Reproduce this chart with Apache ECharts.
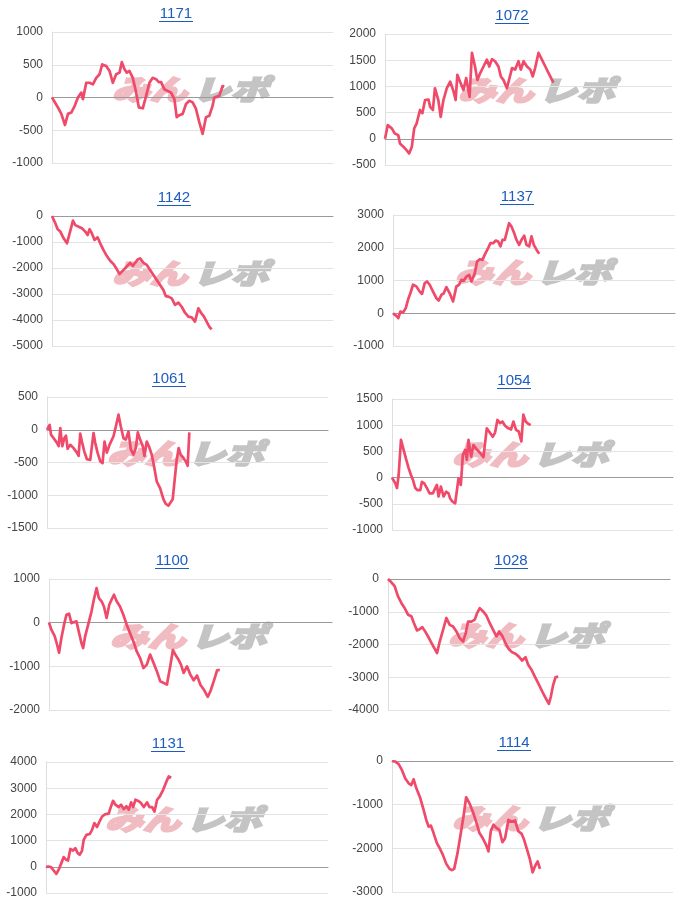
<!DOCTYPE html>
<html><head><meta charset="utf-8">
<script src="https://cdn.jsdelivr.net/npm/echarts@6/dist/echarts.min.js"></script>
<style>html,body{margin:0;padding:0;background:#fff}#c{width:681px;height:905px}</style>
</head><body><div id="c"></div>
<script>
// ---- data ----
const titles = ['1171','1072','1142','1137','1061','1054','1100','1028','1131','1114'];
const yMin  = [-1000, -500, -5000, -1000, -1500, -1000, -2000, -4000, -1000, -3000];
const yMax  = [ 1000, 2000,     0,  3000,   500,  1500,  1000,     0,  4000,     0];
const yStep = [  500,  500,  1000,  1000,   500,   500,  1000,  1000,  1000,  1000];
const xMax = 845; // games axis extent

const s1171 = [[0,0],[21,-180],[28,-250],[39,-420],[48,-250],[58,-230],[68,-130],[78,0],[88,75],[93,-25],[103,225],[113,225],[123,200],[133,300],[143,355],[151,505],[163,480],[173,405],[183,225],[193,355],[203,380],[210,540],[218,430],[225,380],[233,405],[243,300],[253,75],[261,-150],[273,-165],[283,25],[293,225],[303,300],[313,280],[321,235],[328,235],[338,125],[348,100],[358,75],[368,-25],[375,-300],[383,-270],[393,-250],[403,-100],[413,-50],[423,-75],[433,-175],[443,-380],[453,-555],[463,-300],[473,-280],[483,-125],[488,0],[493,25],[503,25],[513,175],[518,165]];
const s1072 = [[0,0],[8,260],[20,200],[29,100],[39,70],[44,-90],[54,-150],[64,-220],[71,-280],[79,-150],[86,200],[93,290],[103,550],[110,490],[118,740],[128,750],[133,610],[141,550],[147,965],[157,740],[164,420],[172,740],[182,965],[192,1090],[202,900],[208,740],[213,1220],[221,1090],[231,930],[239,1160],[249,800],[256,1640],[265,1380],[272,1120],[280,1250],[290,1380],[300,1510],[307,1380],[315,1520],[324,1480],[334,1380],[341,1190],[349,1120],[359,965],[374,1350],[383,1320],[393,1480],[400,1320],[408,1480],[418,1380],[428,1320],[435,1190],[442,1350],[452,1640],[462,1510],[472,1380],[482,1250],[492,1120],[496,1070]];
const s1142 = [[0,0],[10,-280],[17,-510],[25,-600],[35,-860],[45,-1050],[53,-670],[63,-180],[70,-350],[80,-410],[90,-470],[100,-600],[107,-730],[113,-510],[120,-670],[128,-920],[137,-820],[145,-1050],[155,-1310],[165,-1540],[175,-1720],[185,-1850],[195,-2050],[203,-2230],[213,-2100],[223,-1970],[235,-1800],[243,-1920],[250,-1800],[258,-1670],[265,-1630],[275,-1800],[285,-1880],[295,-2080],[305,-2270],[315,-2460],[325,-2650],[335,-2850],[342,-3080],[350,-3100],[360,-3170],[370,-3420],[380,-3330],[390,-3490],[400,-3720],[410,-3870],[420,-3900],[430,-4060],[440,-3550],[448,-3720],[457,-3870],[465,-4060],[473,-4260],[480,-4360]];
const s1137 = [[0,0],[10,-80],[16,-150],[22,50],[30,20],[38,150],[45,410],[52,610],[60,870],[70,820],[80,660],[87,590],[95,920],[102,970],[110,870],[120,660],[130,460],[137,390],[145,560],[152,610],[160,800],[170,610],[180,360],[183,330],[190,820],[198,870],[205,1020],[212,990],[220,1120],[228,1170],[235,970],[245,1220],[252,1580],[260,1650],[268,1630],[275,1790],[285,1990],[292,2140],[300,2140],[308,2220],[315,2190],[322,2040],[328,2240],[335,2240],[340,2260],[348,2750],[355,2650],[363,2450],[370,2240],[378,2090],[385,2240],[393,2370],[400,2090],[408,2040],[415,2350],[422,2090],[430,1940],[438,1820]];
const s1061 = [[0,0],[8,75],[12,-75],[20,-130],[30,-200],[35,-250],[40,25],[46,-250],[52,-130],[57,-90],[62,-290],[70,-230],[80,-280],[90,-350],[95,-400],[100,-60],[105,-180],[112,-330],[120,-450],[130,-460],[135,-460],[140,-50],[145,-200],[152,-350],[160,-480],[167,-510],[173,-180],[180,-350],[188,-230],[200,-100],[207,50],[215,230],[222,50],[230,-130],[237,-150],[245,-25],[252,-300],[260,-380],[267,-280],[273,-40],[280,-150],[288,-250],[293,-400],[300,-180],[307,-260],[315,-380],[322,-560],[330,-790],[340,-890],[350,-1060],[357,-1130],[365,-1160],[370,-1190],[378,-1060],[385,-710],[390,-460],[396,-280],[402,-380],[410,-430],[417,-480],[423,-550],[428,-40]];
const s1054 = [[0,0],[10,-110],[15,-200],[20,50],[27,720],[35,530],[43,340],[50,180],[57,50],[63,-45],[70,-200],[77,-240],[85,-240],[90,-80],[97,-110],[105,-200],[113,-300],[123,-300],[130,-200],[135,-140],[140,-360],[147,-170],[155,-360],[163,-270],[170,-300],[175,-400],[182,-460],[190,-490],[195,-500],[200,-15],[207,-140],[213,430],[220,530],[225,340],[230,720],[238,400],[245,620],[255,540],[265,470],[275,390],[285,940],[295,850],[303,780],[310,860],[317,1100],[325,1040],[332,1070],[340,990],[350,940],[358,920],[365,1070],[373,910],[381,880],[389,690],[395,1200],[402,1070],[409,1030],[417,1000]];
const s1100 = [[0,0],[7,-160],[17,-310],[24,-500],[30,-690],[37,-350],[45,-45],[52,180],[60,205],[67,-10],[74,10],[82,30],[90,-240],[97,-470],[102,-580],[108,-310],[117,-45],[127,260],[134,530],[142,790],[149,560],[157,490],[164,370],[172,110],[180,410],[187,530],[194,640],[202,490],[212,370],[222,180],[232,-45],[242,-240],[252,-430],[262,-660],[272,-810],[282,-1040],[292,-960],[302,-730],[312,-920],[322,-1110],[332,-1340],[342,-1380],[352,-1420],[362,-1000],[370,-620],[377,-730],[387,-850],[394,-960],[402,-1150],[412,-1000],[422,-1190],[432,-1320],[442,-1210],[452,-1420],[462,-1530],[474,-1700],[482,-1570],[492,-1340],[502,-1090],[510,-1080]];
const s1028 = [[0,0],[10,-100],[20,-220],[30,-530],[40,-730],[50,-890],[60,-1090],[70,-1140],[77,-1330],[87,-1570],[95,-1530],[103,-1470],[113,-1630],[123,-1810],[135,-2040],[147,-2260],[155,-1910],[165,-1550],[175,-1190],[185,-1400],[195,-1450],[205,-1600],[215,-1810],[225,-1910],[233,-1650],[240,-1300],[250,-1300],[260,-1240],[267,-1040],[275,-890],[285,-990],[295,-1120],[305,-1350],[315,-1550],[325,-1750],[333,-1600],[343,-1750],[352,-1960],[362,-2140],[372,-2240],[382,-2280],[392,-2370],[402,-2490],[412,-2390],[420,-2620],[430,-2770],[440,-2980],[450,-3180],[460,-3390],[470,-3590],[482,-3810],[488,-3590],[495,-3230],[502,-3000],[510,-2980]];
const s1131 = [[0,0],[8,10],[15,-10],[23,-140],[31,-270],[38,-110],[46,140],[53,370],[60,270],[66,240],[73,680],[81,620],[88,710],[95,520],[101,460],[108,620],[113,1030],[121,1220],[131,1250],[138,1410],[145,1670],[153,1520],[159,1690],[168,1920],[178,2010],[188,2030],[193,2240],[201,2520],[208,2370],[218,2280],[225,2370],[233,2200],[241,2310],[248,2180],[255,2460],[261,2280],[268,2560],[278,2500],[285,2430],[293,2280],[303,2460],[310,2280],[318,2280],[325,2110],[333,2560],[341,2690],[351,2940],[361,3260],[368,3450],[375,3390]];
const s1114 = [[0,0],[10,-15],[20,-70],[30,-210],[40,-400],[50,-510],[58,-550],[65,-420],[73,-620],[85,-850],[95,-1120],[103,-1350],[110,-1500],[117,-1480],[125,-1650],[135,-1880],[145,-2020],[153,-2150],[163,-2350],[173,-2470],[180,-2500],[187,-2470],[197,-2110],[207,-1650],[215,-1270],[223,-830],[233,-970],[243,-1160],[253,-1390],[263,-1650],[273,-1770],[283,-1920],[290,-2070],[297,-1610],[305,-1460],[315,-1540],[323,-1580],[332,-1860],[340,-1770],[350,-1350],[360,-1390],[370,-1360],[380,-1610],[390,-1670],[397,-1800],[405,-2000],[415,-2260],[423,-2550],[430,-2410],[438,-2300],[445,-2470]];
const seriesData = [s1171, s1072, s1142, s1137, s1061, s1054, s1100, s1028, s1131, s1114];

// ---- layout (px) ----
const layout = [
  {l:52,  t:32,  w:281, h:131, tx:176, ty:14,  wx:112, wy:89},
  {l:385, t:34,  w:287, h:131, tx:512, ty:16,  wx:458, wy:90},
  {l:52,  t:216, w:281, h:130, tx:174, ty:198, wx:112, wy:273},
  {l:393, t:215, w:282, h:131, tx:517, ty:197, wx:455, wy:272},
  {l:47,  t:397, w:281, h:131, tx:169, ty:379, wx:107, wy:453},
  {l:392, t:399, w:281, h:131, tx:514, ty:381, wx:452, wy:454},
  {l:49,  t:579, w:283, h:131, tx:172, ty:561, wx:110, wy:636},
  {l:388, t:579, w:282, h:131, tx:511, ty:561, wx:448, wy:635},
  {l:46,  t:762, w:282, h:131, tx:168, ty:744, wx:105, wy:819},
  {l:392, t:761, w:281, h:131, tx:514, ty:743, wx:452, wy:818}
];

const LINE = '#f04a6a';
const WM_FONT = 'italic 900 36px "Noto Sans CJK JP", sans-serif';
const grids = [], xAxes = [], yAxes = [], series = [], graphics = [];
layout.forEach((g, i) => {
  grids.push({left:g.l, top:g.t, width:g.w, height:g.h, containLabel:false});
  xAxes.push({type:'value', gridIndex:i, min:0, max:xMax,
    axisLine:{show:true, onZero:true, lineStyle:{color:'#9a9a9a', width:1}},
    axisTick:{show:false}, axisLabel:{show:false}, splitLine:{show:false}});
  yAxes.push({type:'value', gridIndex:i, min:yMin[i], max:yMax[i], interval:yStep[i],
    axisLine:{show:true, lineStyle:{color:'#dedede'}},
    axisTick:{show:false},
    axisLabel:{fontSize:12, color:'#444', margin:9, fontFamily:'"Liberation Sans", Arial, sans-serif',
      formatter:(v) => String(v)},
    splitLine:{show:true, lineStyle:{color:'#e3e3e3', width:1}}});
  series.push({type:'line', xAxisIndex:i, yAxisIndex:i, data:seriesData[i],
    showSymbol:false, symbol:'none', smooth:false, z:5,
    lineStyle:{color:LINE, width:2.7, join:'round'}});
  // title + underline
  graphics.push({type:'text', x:g.tx, y:g.ty, z:10,
    style:{text:titles[i], fill:'#1c5cbf', font:'15px "Liberation Sans", Arial, sans-serif',
      textAlign:'center', textVerticalAlign:'middle'}});
  graphics.push({type:'rect', z:10, shape:{x:g.tx-17, y:g.ty+7, width:34, height:1},
    style:{fill:'#1c5cbf'}});
  // watermark
  graphics.push({type:'text', x:g.wx, y:g.wy, scaleX:1.05, scaleY:0.78, z:0,
    style:{text:'みん', fill:'#f0bcc2', stroke:'#f0bcc2', lineWidth:2.5, font:WM_FONT,
      textAlign:'left', textVerticalAlign:'middle'}});
  graphics.push({type:'text', x:g.wx+81, y:g.wy, scaleX:1.05, scaleY:0.78, z:0,
    style:{text:'レポ', fill:'#c4c4c4', stroke:'#c4c4c4', lineWidth:2.5, font:WM_FONT,
      textAlign:'left', textVerticalAlign:'middle'}});
});

const chart = echarts.init(document.getElementById('c'), null, {renderer:'canvas'});
chart.setOption({
  animation:false,
  backgroundColor:'#ffffff',
  grid:grids, xAxis:xAxes, yAxis:yAxes, series:series,
  graphic:{elements:graphics}
});
</script>
</body></html>
